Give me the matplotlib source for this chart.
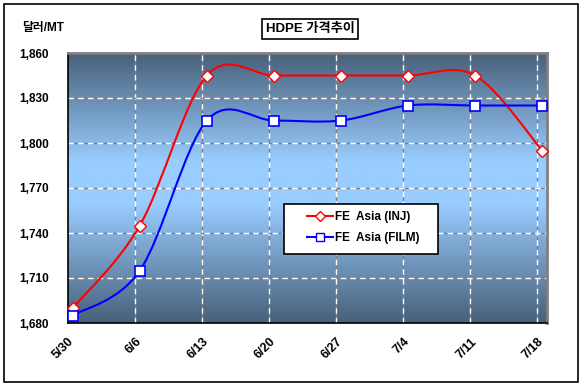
import matplotlib.pyplot as plt
import numpy as np
from matplotlib.path import Path
from matplotlib.patches import PathPatch, Rectangle
from matplotlib.colors import LinearSegmentedColormap
from matplotlib.lines import Line2D

plt.rcParams['font.family'] = ['Liberation Sans', 'Noto Sans CJK KR', 'DejaVu Sans']
plt.rcParams['font.weight'] = 'bold'

# dates as days from 5/30
tick_days = [0, 7, 14, 21, 28, 35, 42, 49]
tick_labels = ["5/30", "6/6", "6/13", "6/20", "6/27", "7/4", "7/11", "7/18"]
data_days = [0.5, 7.5, 14.5, 21.5, 28.5, 35.5, 42.5, 49.5]
inj = [1690, 1745, 1845, 1845, 1845, 1845, 1845, 1795]
film = [1685, 1715, 1815, 1815, 1815, 1825, 1825, 1825]


def smooth_path(xs, ys):
    # Excel-like smoothed line: cubic bezier segments through each point
    pts = np.column_stack([xs, ys]).astype(float)
    n = len(pts)
    verts = [pts[0]]
    codes = [Path.MOVETO]
    for i in range(n - 1):
        p0 = pts[i - 1] if i > 0 else pts[i]
        p1 = pts[i]
        p2 = pts[i + 1]
        p3 = pts[i + 2] if i + 2 < n else pts[i + 1]
        c1 = p1 + (p2 - p0) / 6.0
        c2 = p2 - (p3 - p1) / 6.0
        verts += [c1, c2, p2]
        codes += [Path.CURVE4] * 3
    return Path(verts, codes)


fig = plt.figure(figsize=(5.84, 3.88), dpi=100)
fig.patches.append(Rectangle((4 / 584, 6 / 388), 574 / 584, 378 / 388, transform=fig.transFigure,
                             fill=False, edgecolor='black', linewidth=1.2))
ax = fig.add_axes([68 / 584, 1 - 323 / 388, 479 / 584, 270 / 388])

xmin, xmax = 0, 50
ymin, ymax = 1680, 1860
cmap = LinearSegmentedColormap.from_list("bg", [(0, "#48607a"), (0.4, "#99ccff"),
                                                (0.56, "#99ccff"), (1, "#48607a")])
grad = np.linspace(0, 1, 256).reshape(-1, 1)
ax.imshow(grad, cmap=cmap, aspect='auto', extent=[xmin, xmax, ymin, ymax],
          origin='upper', zorder=0)

for t in tick_days[1:]:
    ax.axvline(t, color='white', linestyle=(0, (4, 3)), gapcolor='#808080', linewidth=1, zorder=1)
for v in [1710, 1740, 1770, 1800, 1830]:
    ax.axhline(v, color='white', linestyle=(0, (4, 3)), gapcolor='#808080', linewidth=1, zorder=1)

ax.add_patch(PathPatch(smooth_path(data_days, inj), fill=False, edgecolor='#ff0000',
                       linewidth=1.5, zorder=3, clip_on=False))
ax.add_patch(PathPatch(smooth_path(data_days, film), fill=False, edgecolor='#0000ff',
                       linewidth=1.5, zorder=3, clip_on=False))
ax.plot(data_days, inj, linestyle='none', marker='D', markersize=6, markerfacecolor='white',
        markeredgecolor='#ff0000', markeredgewidth=1, zorder=4, clip_on=False)
ax.plot(data_days, film, linestyle='none', marker='s', markersize=7, markerfacecolor='white',
        markeredgecolor='#0000ff', markeredgewidth=1.2, zorder=4, clip_on=False)

ax.set_xlim(xmin, xmax)
ax.set_ylim(ymin, ymax)
ax.set_xticks(tick_days)
ax.set_xticklabels(tick_labels, rotation=45, ha='right', va='top', rotation_mode='anchor',
                   fontsize=9)
ax.set_yticks(range(1680, 1861, 30))
ax.set_yticklabels([f"{v:,}" for v in range(1680, 1861, 30)], fontsize=8.5)
ax.tick_params(axis='x', length=0, pad=9)
ax.tick_params(axis='y', length=0, pad=14)
for s in ['top', 'right']:
    ax.spines[s].set_color('#808080')
    ax.spines[s].set_linewidth(2)
for s in ['left', 'bottom']:
    ax.spines[s].set_color('black')
    ax.spines[s].set_linewidth(1.2)

fig.text(22 / 584, 1 - 28 / 388, "달러/MT", fontsize=8.5, fontweight='bold', va='center')
fig.text(310 / 584, 1 - 29 / 388, "HDPE 가격추이", fontsize=9.5, fontweight='bold',
         ha='center', va='center',
         bbox=dict(boxstyle='square,pad=0.3', facecolor='white', edgecolor='black', linewidth=1.2))

# legend: frame drawn separately to match the wide side padding
fig.patches.append(Rectangle((284 / 584, 1 - 254 / 388), 154 / 584, 50 / 388,
                             transform=fig.transFigure, facecolor='white',
                             edgecolor='black', linewidth=1.2, zorder=5))
handles = [Line2D([], [], color='#ff0000', linewidth=1.5, marker='D', markersize=5,
                  markerfacecolor='white', markeredgecolor='#ff0000'),
           Line2D([], [], color='#0000ff', linewidth=1.5, marker='s', markersize=6,
                  markerfacecolor='white', markeredgecolor='#0000ff')]
leg = fig.legend(handles, ["FE  Asia (INJ)", "FE  Asia (FILM)"], loc='upper left',
                 bbox_to_anchor=(297 / 584, 1 - 201 / 388), frameon=False,
                 fontsize=8.5, handlelength=2.2, handletextpad=0.15, borderpad=0.35,
                 labelspacing=0.75)
leg.set_zorder(6)
for txt in leg.get_texts():
    txt.set_fontweight('bold')

fig.savefig("out.png", dpi=100)
